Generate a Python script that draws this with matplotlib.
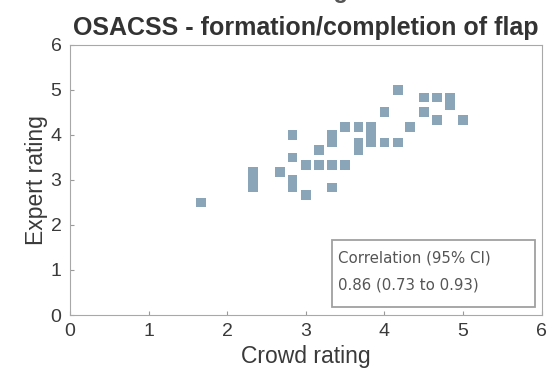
import numpy as np
import matplotlib
matplotlib.use("Agg")
import matplotlib.pyplot as plt
from matplotlib.patches import Rectangle

plt.rcParams['font.family'] = ['Liberation Sans', 'DejaVu Sans']

# crowd vs expert scores for each video
crowd = [1.67,
         2.33, 2.33, 2.33,
         2.67,
         2.83, 2.83, 2.83, 2.83,
         3.00, 3.00,
         3.17, 3.17,
         3.33, 3.33, 3.33, 3.33,
         3.50, 3.50,
         3.67, 3.67, 3.67,
         3.83, 3.83, 3.83,
         4.00, 4.00,
         4.17, 4.17,
         4.33,
         4.50, 4.50,
         4.67, 4.67,
         4.83, 4.83,
         5.00]
expert = [2.50,
          3.17, 3.00, 2.83,
          3.17,
          4.00, 3.50, 3.00, 2.83,
          3.33, 2.67,
          3.67, 3.33,
          3.33, 2.83, 4.00, 3.83,
          3.33, 4.17,
          4.17, 3.83, 3.67,
          4.17, 4.00, 3.83,
          3.83, 4.50,
          3.83, 5.00,
          4.17,
          4.83, 4.50,
          4.83, 4.33,
          4.83, 4.67,
          4.33]

ticks = [0, 1, 2, 3, 4, 5, 6]
corr_head = "Correlation (95% CI)"
corr_value = "0.86 (0.73 to 0.93)"

fig = plt.figure(figsize=(5.5, 3.8), dpi=100)
ax = fig.add_axes([0.127, 0.171, 0.858, 0.711])

ax.scatter(crowd, expert, marker='s', s=50, color='#8aa4b8', edgecolors='none')

ax.set_xlim(0, 6)
ax.set_ylim(0, 6)
ax.set_xticks(ticks)
ax.set_yticks(ticks)
ax.tick_params(direction='in', length=3, labelsize=14, colors='#9a9a9a',
               labelcolor='#3a3a3a', pad=6)
for s in ax.spines.values():
    s.set_color('#a8a8a8')

ax.set_xlabel('Crowd rating', fontsize=16.5, color='#3a3a3a', labelpad=3)
ax.set_ylabel('Expert rating', fontsize=16.5, color='#3a3a3a', labelpad=2)

# two-line title, first line runs off the top edge
fig.text(0.5, 1.022, 'Crowd rating', ha='center', va='center',
         fontsize=17, fontweight='bold', color='#555555')
ax.set_title('OSACSS - formation/completion of flap', fontsize=18,
             fontweight='bold', color='#333333', pad=7)

# correlation box in the lower right corner
ax.add_patch(Rectangle((0.555, 0.03), 0.43, 0.248, transform=ax.transAxes,
                       fc='white', ec='#a0a0a0', lw=1.3, zorder=3))
ax.text(0.568, 0.211, corr_head, transform=ax.transAxes, fontsize=10.8,
        family=['DejaVu Sans'], color='#555555', va='center', ha='left', zorder=4)
ax.text(0.568, 0.111, corr_value, transform=ax.transAxes, fontsize=10.8,
        family=['DejaVu Sans'], color='#555555', va='center', ha='left', zorder=4)

fig.savefig('out.png', dpi=100)
